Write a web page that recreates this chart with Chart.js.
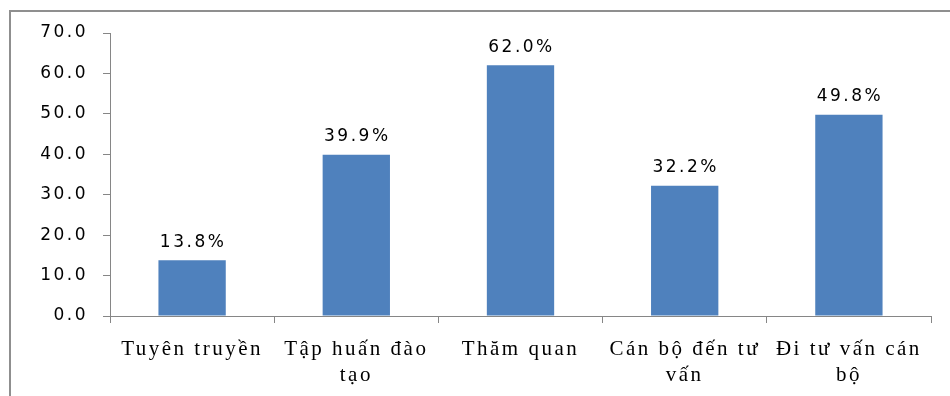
<!DOCTYPE html>
<html>
<head>
<meta charset="utf-8">
<script src="https://cdn.jsdelivr.net/npm/chart.js@4/dist/chart.umd.min.js"></script>
<style>
  html, body { margin: 0; padding: 0; background: #fff; overflow: hidden; }
  #wrap { position: relative; width: 950px; height: 396px; }
  #frame { position: absolute; left: 9px; top: 10px; width: 2000px; height: 2000px;
           border-left: 2px solid #8f8f8f; border-top: 2px solid #8f8f8f; }
  canvas { position: absolute; left: 0; top: 0; }
</style>
</head>
<body>
<div id="wrap">
  <div id="frame"></div>
  <canvas id="c" width="950" height="396"></canvas>
</div>
<script>
const categories = [
  ["Tuyên truyền"],
  ["Tập huấn đào", "tạo"],
  ["Thăm quan"],
  ["Cán bộ đến tư", "vấn"],
  ["Đi tư vấn cán", "bộ"]
];
const values = [13.8, 39.9, 62.0, 32.2, 49.8];
const yTicks = [0, 10, 20, 30, 40, 50, 60, 70];

const spacingPlugin = {
  id: 'spacing',
  beforeDraw(chart) { chart.ctx.letterSpacing = '2.5px'; }
};

const labelPlugin = {
  id: 'barLabels',
  afterDatasetsDraw(chart) {
    const ctx = chart.ctx;
    const meta = chart.getDatasetMeta(0);
    ctx.save();
    ctx.letterSpacing = '2.5px';
    ctx.font = '17px "DejaVu Sans"';
    ctx.fillStyle = '#000';
    ctx.textAlign = 'center';
    ctx.textBaseline = 'middle';
    meta.data.forEach((bar, i) => {
      ctx.fillText(values[i].toFixed(1) + '%', bar.x + 1, bar.y - 18);
    });
    ctx.restore();
  }
};

new Chart(document.getElementById('c'), {
  type: 'bar',
  data: {
    labels: categories,
    datasets: [{
      data: values,
      backgroundColor: '#4F81BD',
      borderWidth: 0,
      barPercentage: 0.41,
      categoryPercentage: 1.0
    }]
  },
  options: {
    responsive: false,
    animation: false,
    devicePixelRatio: 1,
    layout: { padding: { left: 0, top: 33, right: 19, bottom: 0 } },
    plugins: { legend: { display: false }, tooltip: { enabled: false } },
    scales: {
      x: {
        grid: { drawOnChartArea: false, drawTicks: true, tickLength: 7, color: '#868686', offset: true },
        border: { color: '#868686', width: 1 },
        ticks: {
          color: '#000',
          font: { family: '"Liberation Serif"', size: 21, lineHeight: 1.24 },
          maxRotation: 0, minRotation: 0, autoSkip: false, padding: 13
        },
        afterFit(scale) { scale.height = 80; }
      },
      y: {
        min: 0, max: 70,
        afterBuildTicks(scale) { scale.ticks = yTicks.map(v => ({ value: v })); },
        grid: { drawOnChartArea: false, drawTicks: true, tickLength: 7, color: '#868686' },
        border: { color: '#868686', width: 1 },
        ticks: {
          color: '#000',
          font: { family: '"DejaVu Sans"', size: 17 },
          padding: 15,
          callback: v => Number(v).toFixed(1)
        },
        afterFit(scale) { scale.width = 110; }
      }
    }
  },
  plugins: [spacingPlugin, labelPlugin]
});
</script>
</body>
</html>
